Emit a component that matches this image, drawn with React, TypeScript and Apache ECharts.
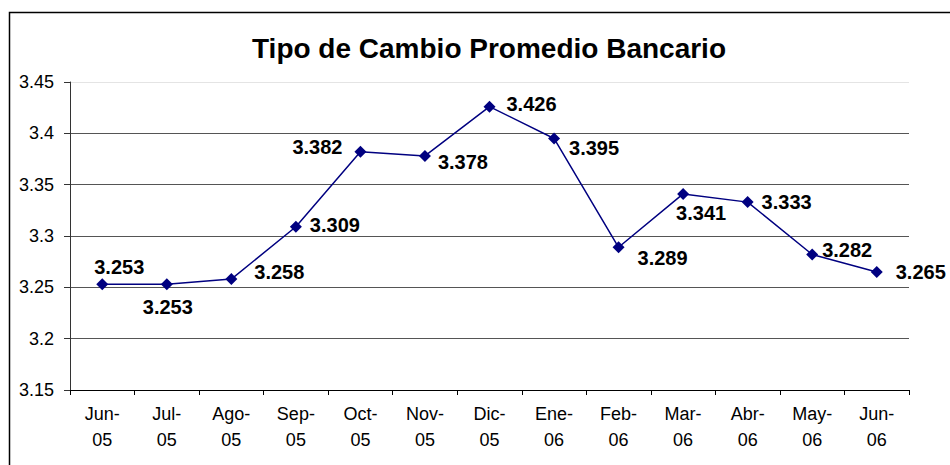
import React, { useEffect, useRef } from "react";
import * as echarts from "echarts";

const titleText = "Tipo de Cambio Promedio Bancario";
const categories = [
  "Jun-\n05", "Jul-\n05", "Ago-\n05", "Sep-\n05", "Oct-\n05", "Nov-\n05", "Dic-\n05",
  "Ene-\n06", "Feb-\n06", "Mar-\n06", "Abr-\n06", "May-\n06", "Jun-\n06",
];
const values = [3.253, 3.253, 3.258, 3.309, 3.382, 3.378, 3.426, 3.395, 3.289, 3.341, 3.333, 3.282, 3.265];
const yMin = 3.15;
const yMax = 3.45;
const yStep = 0.05;

// label placement (style), relative to each marker
const labelOffsets: [number, number][] = [
  [17, -17], [1, 23], [48, -7], [39, -2], [-43, -5], [38, 6], [42, -3],
  [40, 10], [44, 11], [18, 19], [39, 0], [35, -4], [44, 0],
];

export default function App() {
  const ref = useRef<HTMLDivElement>(null);
  useEffect(() => {
    if (!ref.current) return;
    const chart = echarts.init(ref.current, undefined, { renderer: "svg" });
    const font = "Liberation Sans, Arial, sans-serif";
    chart.setOption({
      animation: false,
      backgroundColor: "#ffffff",
      textStyle: { fontFamily: font },
      title: {
        text: titleText,
        left: 484,
        textAlign: "center",
        top: 29,
        textStyle: { fontFamily: font, fontSize: 28, fontWeight: "bold", color: "#000" },
      },
      graphic: [
        {
          type: "rect",
          shape: { x: 9.5, y: 12.5, width: 1000, height: 1000 },
          style: { fill: "none", stroke: "#000", lineWidth: 1.5 },
          silent: true,
        },
      ],
      grid: { left: 70, right: 41, top: 82, bottom: 75, containLabel: false },
      xAxis: {
        type: "category",
        data: categories,
        boundaryGap: true,
        axisLine: { lineStyle: { color: "#000", width: 1 } },
        axisTick: { show: true, interval: 0, length: 5, alignWithLabel: false, lineStyle: { color: "#000" } },
        axisLabel: {
          interval: 0,
          margin: 11,
          fontSize: 18,
          lineHeight: 26,
          color: "#000",
          fontFamily: font,
        },
        splitLine: { show: false },
      },
      yAxis: {
        type: "value",
        min: yMin,
        max: yMax,
        interval: yStep,
        axisLine: { show: true, lineStyle: { color: "#333", width: 1 } },
        axisTick: { show: true, length: 6, lineStyle: { color: "#333" } },
        axisLabel: {
          margin: 16,
          fontSize: 18,
          color: "#000",
          fontFamily: font,
          formatter: (v: number) => String(+v.toFixed(2)),
        },
        splitLine: {
          show: true,
          lineStyle: {
            color: ["#555", "#555", "#555", "#555", "#555", "#555", "#e4e4e4"],
            width: 1,
          },
        },
      },
      series: [
        {
          type: "line",
          data: values.map((v, i) => ({
            value: v,
            label: { offset: labelOffsets[i] },
          })),
          symbol: "diamond",
          symbolSize: 12,
          lineStyle: { color: "#000080", width: 1.5 },
          itemStyle: { color: "#000080" },
          label: {
            show: true,
            position: "inside",
            fontSize: 20,
            fontWeight: "bold",
            color: "#000",
            fontFamily: font,
            formatter: (p: any) => p.value.toFixed(3),
          },
        },
      ],
    });
    return () => chart.dispose();
  }, []);
  return (
    <div
      ref={ref}
      style={{ position: "fixed", left: 0, top: 0, width: 950, height: 465 }}
    />
  );
}
